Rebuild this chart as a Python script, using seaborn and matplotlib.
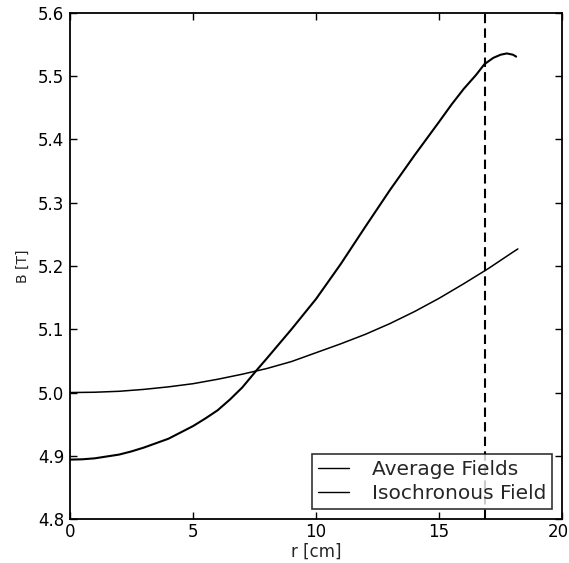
import matplotlib
matplotlib.use("Agg")
import matplotlib.pyplot as plt
import matplotlib.transforms as mtransforms
import seaborn as sns
import pandas as pd

# Radial field profiles
r_avg = [0, 0.5, 1, 1.5, 2, 2.5, 3, 3.5, 4, 4.5, 5, 5.5, 6, 6.5, 7, 7.6, 8, 9, 10, 11,
         12, 13, 14, 15, 15.5, 16, 16.5, 16.84, 17.2, 17.5, 17.75, 18.0, 18.13]
b_avg = [4.894, 4.8945, 4.896, 4.899, 4.902, 4.907, 4.913, 4.920, 4.927, 4.937, 4.947,
         4.959, 4.972, 4.989, 5.008, 5.036, 5.054, 5.100, 5.148, 5.203, 5.262, 5.320,
         5.375, 5.428, 5.455, 5.480, 5.502, 5.519, 5.529, 5.534, 5.536, 5.534, 5.531]

r_iso = [0, 1, 2, 3, 4, 5, 6, 7, 8, 9, 10, 11, 12, 13, 14, 15, 16, 17, 18, 18.2]
b_iso = [5.000, 5.0005, 5.002, 5.005, 5.009, 5.014, 5.021, 5.029, 5.038, 5.049, 5.063,
         5.077, 5.092, 5.109, 5.128, 5.149, 5.172, 5.196, 5.222, 5.227]

r_extract = 16.85

x_ticks = [0, 5, 10, 15, 20]
y_ticks = [4.8, 4.9, 5.0, 5.1, 5.2, 5.3, 5.4, 5.5, 5.6]

sns.set_style("ticks")
plt.rcParams["font.family"] = ["DejaVu Sans"]
plt.rcParams["xtick.direction"] = "in"
plt.rcParams["ytick.direction"] = "in"
plt.rcParams["xtick.top"] = True
plt.rcParams["ytick.right"] = True

avg_df = pd.DataFrame({"r": r_avg, "B": b_avg})
iso_df = pd.DataFrame({"r": r_iso, "B": b_iso})

fig = plt.figure(figsize=(5.69, 5.63), dpi=100)
ax = fig.add_axes([0.123, 0.078, 0.865, 0.899])

sns.lineplot(data=avg_df, x="r", y="B", ax=ax, color="black", linewidth=1.5,
             label="Average Fields", sort=False)
sns.lineplot(data=iso_df, x="r", y="B", ax=ax, color="black", linewidth=1.1,
             label="Isochronous Field", sort=False)
ax.axvline(r_extract, color="black", linestyle=(0, (4.5, 2.5)), linewidth=1.5)

ax.set_xlim(0, 20)
ax.set_ylim(4.8, 5.6)
ax.set_xticks(x_ticks)
ax.set_yticks(y_ticks)
ax.set_xticklabels([str(v) for v in x_ticks])
ax.set_yticklabels([f"{v:.1f}" for v in y_ticks])
ax.tick_params(axis="both", which="major", length=5, width=1, labelsize=12,
               color="black", labelcolor="black", top=True, right=True)
ax.tick_params(axis="y", pad=4)
ax.tick_params(axis="x", pad=3)

# keep the last x tick label inside the canvas
last = ax.get_xticklabels()[-1]
last.set_transform(last.get_transform() + mtransforms.ScaledTranslation(-4 / 100, 0, fig.dpi_scale_trans))

for s in ax.spines.values():
    s.set_color("black")
    s.set_linewidth(1.3)

ax.set_xlabel("r [cm]", fontsize=12, labelpad=1)
ax.set_ylabel("B [T]", fontsize=10, labelpad=6)

leg = ax.legend(loc="lower right", fontsize=14.5, frameon=True, fancybox=False,
                handlelength=1.5, handletextpad=1.15, labelspacing=0.25,
                borderpad=0.3, borderaxespad=0.5)
leg.get_frame().set_edgecolor("black")
leg.get_frame().set_linewidth(1.2)
for h in leg.get_lines():
    h.set_linewidth(1.0)

fig.savefig("out.png", dpi=100)
